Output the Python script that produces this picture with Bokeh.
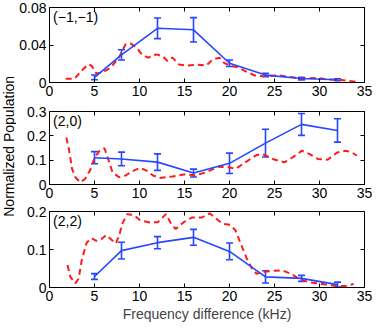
import math
from bokeh.plotting import figure
from bokeh.models import (ColumnDataSource, Whisker, TeeHead, FixedTicker, LinearAxis, Range1d,
                          Label, CustomJSTickFormatter)
from bokeh.layouts import row, column
from bokeh.embed import file_html
from bokeh.resources import INLINE

FONT = "Liberation Sans"
BLUE = "#2646ff"
RED = "#ff1a1a"

# ---------------- data ----------------
freq = [5, 8, 12, 16, 20, 24, 28, 32]

# panel (-1,-1)
p1_mean = [0.0055, 0.0295, 0.0578, 0.0562, 0.0205, 0.0079, 0.0042, 0.0030]
p1_err = [0.0025, 0.0055, 0.011, 0.013, 0.0035, 0.0018, 0.0014, 0.0010]
p1_theory_x = [1.8, 2.8, 3.4, 4.3, 4.7, 5.2, 5.9, 6.8, 7.7, 8.45, 9.0, 9.7, 10.25, 10.96, 11.87,
               12.58, 13.1, 13.66, 14.38, 15.1, 16.5, 17.4, 18.15, 18.9, 19.4, 20.1, 20.85,
               21.75, 22.8, 23.7, 25.5, 26.6, 28.05, 29.8, 30.9, 32.4, 33.8, 34.3]
p1_theory_y = [0.004, 0.004, 0.011, 0.0195, 0.0176, 0.0095, 0.011, 0.0158, 0.0265, 0.0407,
               0.0418, 0.037, 0.030, 0.0265, 0.030, 0.028, 0.023, 0.0265, 0.0193, 0.018,
               0.019, 0.018, 0.0247, 0.0265, 0.021, 0.0175, 0.0165, 0.0122, 0.0075, 0.0068,
               0.0075, 0.006, 0.004, 0.005, 0.0032, 0.0026, 0.001, 0.0015]

# panel (2,0)
p2_mean = [0.110, 0.105, 0.092, 0.047, 0.087, 0.170, 0.247, 0.222]
p2_err = [0.025, 0.028, 0.034, 0.016, 0.042, 0.057, 0.045, 0.048]
p2_theory_x = [1.87, 2.16, 2.51, 2.87, 3.41, 3.95, 4.49, 5.03, 5.57, 6.11, 6.47, 7.0, 7.73,
               8.45, 9.35, 10.07, 10.79, 11.5, 12.22, 13.66, 15.1, 16.2, 17.4, 18.7, 19.96,
               20.67, 21.75, 23.0, 23.7, 24.8, 26.1, 27.0, 28.05, 28.9, 29.8, 30.9, 31.99,
               32.9, 33.6, 34.15]
p2_theory_y = [0.193, 0.145, 0.064, 0.03, 0.009, 0.023, 0.057, 0.111, 0.139, 0.149, 0.11,
               0.05, 0.03, 0.037, 0.057, 0.068, 0.057, 0.037, 0.027, 0.033, 0.042, 0.038,
               0.05, 0.073, 0.071, 0.064, 0.091, 0.121, 0.125, 0.105, 0.091, 0.111, 0.139,
               0.125, 0.105, 0.102, 0.132, 0.139, 0.132, 0.118]

# panel (2,2)
p3_mean = [0.029, 0.097, 0.118, 0.132, 0.095, 0.028, 0.024, 0.0075]
p3_err = [0.0075, 0.022, 0.016, 0.021, 0.022, 0.016, 0.008, 0.0066]
p3_theory_x = [2.0, 2.33, 2.87, 3.23, 3.59, 4.13, 4.67, 5.2, 5.75, 6.29, 6.83, 7.37, 7.73,
               8.09, 8.63, 9.35, 10.07, 11.15, 12.04, 12.94, 13.5, 14.02, 14.92, 15.8, 16.9,
               17.8, 18.5, 19.2, 20.1, 20.67, 21.2, 21.9, 22.5, 23.0, 23.7, 24.98, 25.9,
               26.85, 27.7, 28.8, 29.8, 30.9, 32.0, 32.9, 33.8]
p3_theory_y = [0.059, 0.027, 0.011, 0.023, 0.073, 0.118, 0.130, 0.123, 0.127, 0.138, 0.127,
               0.116, 0.136, 0.168, 0.193, 0.191, 0.177, 0.171, 0.172, 0.193, 0.168, 0.154,
               0.172, 0.184, 0.184, 0.195, 0.182, 0.168, 0.165, 0.150, 0.118, 0.077, 0.050,
               0.036, 0.041, 0.044, 0.045, 0.036, 0.023, 0.014, 0.011, 0.007, 0.0035, 0.004,
               0.009]

x_ticks = [0, 5, 10, 15, 20, 25, 30, 35]
p1_yticks = [0, 0.04, 0.08]
p1_ylabels = ["0", "0.04", "0.08"]
p2_yticks = [0, 0.1, 0.2, 0.3]
p2_ylabels = ["0", "0.1", "0.2", "0.3"]
p3_yticks = [0, 0.1, 0.2]
p3_ylabels = ["0", "0.1", "0.2"]

panel_names = ["(\u22121,\u22121)", "(2,0)", "(2,2)"]
x_title = "Frequency difference (kHz)"
y_title = "Normalized Population"

LABEL_W = 16
BORDER_L = 32
FW = 315


def style_axis(ax, show_labels=True):
    ax.major_tick_in = 4
    ax.major_tick_out = 0
    ax.minor_tick_line_color = None
    ax.axis_line_color = "black"
    ax.major_tick_line_color = "black"
    ax.major_label_text_font = FONT
    ax.major_label_text_color = "black"
    ax.major_label_text_font_size = "14px"
    if show_labels:
        ax.major_label_standoff = 3
    else:
        ax.formatter = CustomJSTickFormatter(code="return '';")
        ax.major_label_standoff = 0


def make_panel(mean, err, tx, ty, ymax, yticks, ylabels, name, fh, bb, xlabel=None):
    p = figure(frame_width=FW, frame_height=fh,
               x_range=Range1d(0, 35), y_range=Range1d(0, ymax),
               output_backend="svg", toolbar_location=None,
               min_border_left=BORDER_L, min_border_right=9, min_border_top=7,
               min_border_bottom=bb, background_fill_color="white",
               border_fill_color="white")
    p.grid.visible = False
    p.outline_line_color = "black"
    p.outline_line_width = 1

    xa = p.xaxis[0]
    ya = p.yaxis[0]
    xa.ticker = FixedTicker(ticks=x_ticks)
    ya.ticker = FixedTicker(ticks=yticks)
    ya.major_label_overrides = {t: l for t, l in zip(yticks, ylabels)}
    style_axis(xa)
    style_axis(ya)
    if xlabel:
        xa.axis_label = xlabel
        xa.axis_label_text_font = FONT
        xa.axis_label_text_font_size = "14px"
        xa.axis_label_text_font_style = "normal"
        xa.axis_label_standoff = 2

    top = LinearAxis(ticker=FixedTicker(ticks=x_ticks))
    style_axis(top, False)
    p.add_layout(top, "above")
    right = LinearAxis(ticker=FixedTicker(ticks=yticks))
    style_axis(right, False)
    p.add_layout(right, "right")

    # theory (dashed red)
    p.line(tx, ty, line_color=RED, line_width=2, line_dash="6 4")

    # measurement (blue with error bars)
    src = ColumnDataSource(dict(x=freq, y=mean,
                                upper=[m + e for m, e in zip(mean, err)],
                                lower=[m - e for m, e in zip(mean, err)]))
    p.line("x", "y", source=src, line_color=BLUE, line_width=1.6)
    w = Whisker(source=src, base="x", upper="upper", lower="lower", dimension="height",
                line_color=BLUE, line_width=1.6,
                upper_head=TeeHead(size=7, line_color=BLUE, line_width=1.6),
                lower_head=TeeHead(size=7, line_color=BLUE, line_width=1.6))
    p.add_layout(w)

    p.add_layout(Label(x=0.4, y=ymax * 0.975, text=name, text_baseline="top",
                       text_align="left", text_font=FONT, text_font_size="14px",
                       text_color="black"))
    return p


f1 = make_panel(p1_mean, p1_err, p1_theory_x, p1_theory_y, 0.08, p1_yticks, p1_ylabels,
                panel_names[0], 75, 22)
f2 = make_panel(p2_mean, p2_err, p2_theory_x, p2_theory_y, 0.3, p2_yticks, p2_ylabels,
                panel_names[1], 73, 20)
f3 = make_panel(p3_mean, p3_err, p3_theory_x, p3_theory_y, 0.2, p3_yticks, p3_ylabels,
                panel_names[2], 76, 30, xlabel=x_title)

TOTAL_H = (7 + 75 + 22) + (7 + 73 + 20) + (7 + 76 + 30)
lab = figure(width=LABEL_W, height=TOTAL_H, x_range=Range1d(0, 1), y_range=Range1d(0, 1),
             output_backend="svg", toolbar_location=None, min_border=0,
             outline_line_color=None)
lab.axis.visible = False
lab.grid.visible = False
lab.add_layout(Label(x=0.5, y=0.54, text=y_title, angle=math.pi / 2,
                     text_align="center", text_baseline="middle",
                     text_font=FONT, text_font_size="14px", text_color="black"))

layout = row(lab, column(f1, f2, f3, spacing=0), spacing=0)

with open("out.html", "w") as fh:
    fh.write(file_html(layout, INLINE))
